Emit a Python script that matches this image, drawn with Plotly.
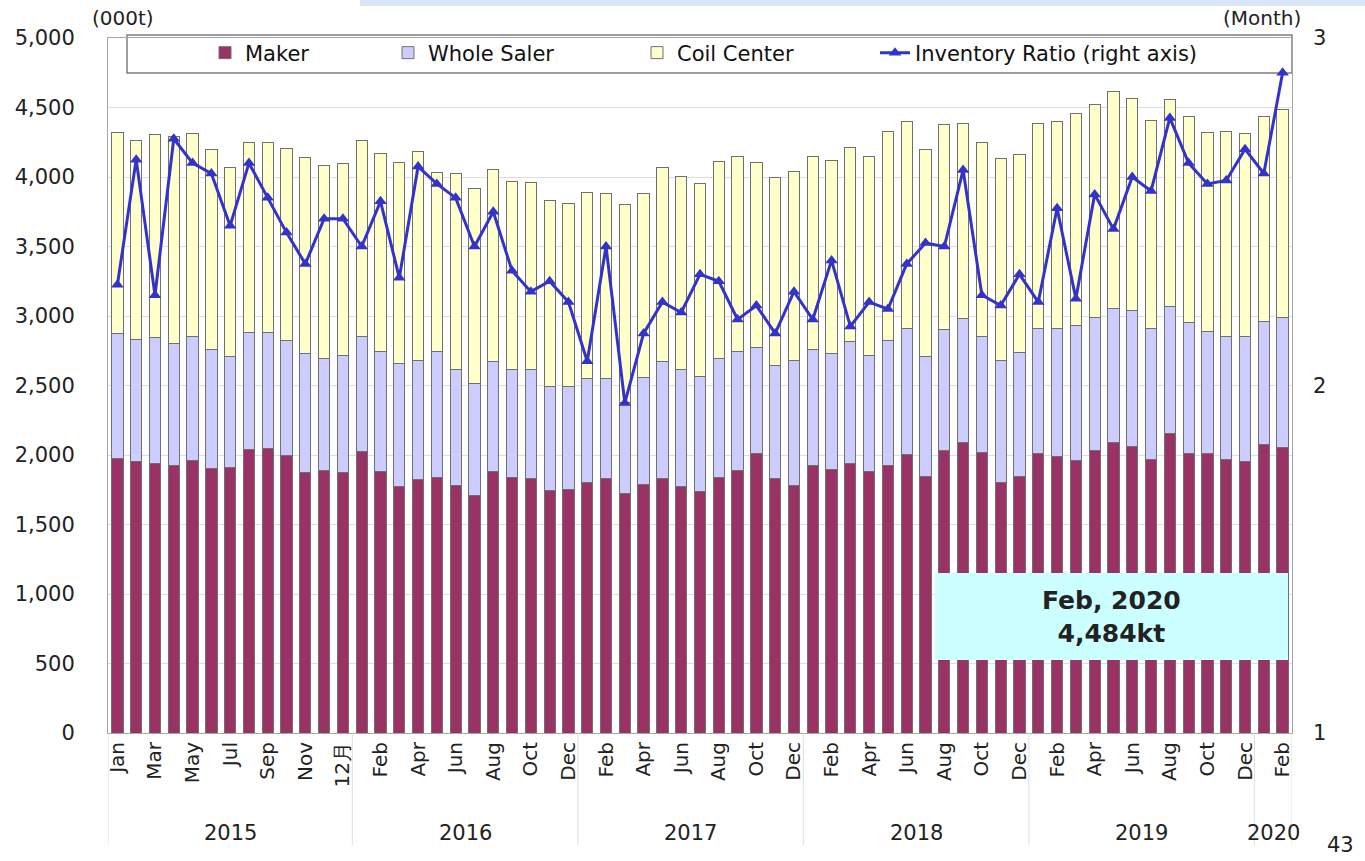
import plotly.graph_objects as go

# category axis: 2015 block has 13 entries in the source sheet
year_labels = ["2015", "2016", "2017", "2018", "2019", "2020"]
months_per_year = [13, 12, 12, 12, 12, 2]
month_labels = (
    ["Jan", "Feb", "Mar", "Apr", "May", "Jun", "Jul", "Aug", "Sep", "Oct", "Nov", "Dec", "12月"]
    + ["Jan", "Feb", "Mar", "Apr", "May", "Jun", "Jul", "Aug", "Sep", "Oct", "Nov", "Dec"] * 4
    + ["Jan", "Feb"]
)

# inventories, 000t
maker = [1976, 1950, 1942, 1926, 1957, 1904, 1911, 2043, 2045, 1993, 1873, 1885, 1875,
         2022, 1883, 1772, 1827, 1835, 1778, 1712, 1883, 1840, 1830, 1743, 1750,
         1799, 1830, 1724, 1789, 1830, 1774, 1741, 1837, 1892, 2009, 1830, 1782,
         1926, 1897, 1942, 1883, 1924, 2004, 1846, 2036, 2089, 2019, 1805, 1846,
         2012, 1990, 1959, 2031, 2089, 2063, 1966, 2154, 2012, 2012, 1966, 1952,
         2072, 2055]
whole_saler = [900, 880, 905, 877, 899, 854, 801, 839, 837, 829, 858, 810, 839,
               829, 860, 883, 856, 908, 839, 799, 793, 777, 787, 753, 746,
               753, 722, 656, 770, 846, 843, 827, 856, 856, 763, 817, 901,
               834, 834, 878, 834, 901, 906, 862, 869, 895, 831, 876, 891,
               898, 920, 970, 958, 966, 974, 941, 912, 939, 874, 889, 898,
               886, 934]
coil_center = [1443, 1436, 1457, 1492, 1455, 1441, 1358, 1367, 1367, 1382, 1406, 1386, 1380,
               1413, 1427, 1448, 1497, 1288, 1409, 1405, 1378, 1354, 1340, 1334, 1312,
               1340, 1326, 1421, 1323, 1394, 1390, 1382, 1417, 1398, 1331, 1350, 1357,
               1386, 1389, 1389, 1429, 1505, 1492, 1492, 1475, 1401, 1400, 1449, 1426,
               1477, 1492, 1528, 1533, 1559, 1529, 1499, 1493, 1485, 1434, 1472, 1465,
               1478, 1495]
# months of inventory
inventory_ratio = [2.29, 2.65, 2.26, 2.71, 2.64, 2.61, 2.46, 2.64, 2.54, 2.44, 2.35, 2.48, 2.48,
                   2.40, 2.53, 2.31, 2.63, 2.58, 2.54, 2.40, 2.50, 2.33, 2.27, 2.30, 2.24,
                   2.07, 2.40, 1.95, 2.15, 2.24, 2.21, 2.32, 2.30, 2.19, 2.23, 2.15, 2.27,
                   2.19, 2.36, 2.17, 2.24, 2.22, 2.35, 2.41, 2.40, 2.62, 2.26, 2.23, 2.32,
                   2.24, 2.51, 2.25, 2.55, 2.45, 2.60, 2.56, 2.77, 2.64, 2.58, 2.59, 2.68,
                   2.61, 2.90]

FONT = "DejaVu Sans"
W, H = 1365, 861
L, R, T, B = 108, 73, 38, 128


def px(x=None, y=None):
    # page pixel -> paper coordinate
    if x is not None:
        return (x - L) / (W - L - R)
    return (H - B - y) / (H - T - B)


def note(text, x, y, size=20, **kw):
    fig.add_annotation(x=px(x=x), y=px(y=y), xref="paper", yref="paper", text=text,
                       showarrow=False, xanchor="center", yanchor="middle",
                       font=dict(size=size, color="#222"), **kw)


xs = list(range(len(month_labels)))

fig = go.Figure()
bar_line = dict(color="#707070", width=1)
fig.add_trace(go.Bar(x=xs, y=maker, name="Maker", marker=dict(color="#993366", line=bar_line),
                     width=0.6, legend="legend"))
fig.add_trace(go.Bar(x=xs, y=whole_saler, name="Whole Saler", marker=dict(color="#CCCCFF", line=bar_line),
                     width=0.6, legend="legend2"))
fig.add_trace(go.Bar(x=xs, y=coil_center, name="Coil Center", marker=dict(color="#FFFFCC", line=bar_line),
                     width=0.6, legend="legend3"))
fig.add_trace(go.Scatter(x=xs, y=inventory_ratio, name="Inventory Ratio (right axis)", yaxis="y2",
                         mode="lines+markers", line=dict(color="#3333CC", width=3),
                         marker=dict(symbol="triangle-up", size=11, color="#3333CC"),
                         legend="legend4"))

# year groups under the month labels
bounds = [-0.5]
for n in months_per_year:
    bounds.append(bounds[-1] + n)
for b in bounds:
    fig.add_shape(type="line", xref="x", yref="paper", x0=b, x1=b, y0=0, y1=px(y=845),
                  line=dict(color="#e0e0e0", width=1))
for yr, a, b in zip(year_labels, bounds[:-1], bounds[1:]):
    fig.add_annotation(x=(a + b) / 2, y=px(y=833), xref="x", yref="paper", text=yr,
                       showarrow=False, yanchor="middle", font=dict(size=21, color="#222"))

# legend frame
fig.add_shape(type="rect", xref="paper", yref="paper", x0=px(x=127), x1=px(x=1292),
              y0=px(y=73), y1=px(y=35), line=dict(color="#7f7f7f", width=1.5),
              fillcolor="white", layer="below")
# slide header strip
fig.add_shape(type="rect", xref="paper", yref="paper", x0=px(x=360), x1=px(x=1365),
              y0=px(y=6), y1=px(y=0), line=dict(width=0), fillcolor="#d7e7f6")

# latest value box
total_last = maker[-1] + whole_saler[-1] + coil_center[-1]
fig.add_shape(type="rect", xref="paper", yref="paper", x0=px(x=935), x1=px(x=1288),
              y0=px(y=660), y1=px(y=573), line=dict(width=0), fillcolor="#CCFFFF", layer="above")
note(f"<b>{month_labels[-1]}, {year_labels[-1]}<br>{total_last:,}kt</b>", 1111, 617, size=25)

note("(000t)", 123, 18)
note("(Month)", 1262, 18)
note("43", 1340, 845, size=21)

leg = dict(orientation="h", yanchor="middle", y=px(y=53), xanchor="left",
           bgcolor="rgba(0,0,0,0)", borderwidth=0, font=dict(size=21, color="#111"))
fig.update_layout(
    template="none",
    width=W, height=H,
    margin=dict(l=L, r=R, t=T, b=B),
    paper_bgcolor="white", plot_bgcolor="white",
    font=dict(family=FONT, color="#222"),
    barmode="stack",
    showlegend=True,
    legend=dict(leg, x=px(x=205)),
    legend2=dict(leg, x=px(x=388)),
    legend3=dict(leg, x=px(x=637)),
    legend4=dict(leg, x=px(x=875)),
    xaxis=dict(range=[-0.5, len(xs) - 0.5], tickvals=xs[::2], ticktext=month_labels[::2],
               tickangle=-90, tickfont=dict(size=20), showgrid=False, ticks="",
               showline=True, mirror=True, linecolor="#a6a6a6", linewidth=1, automargin=False),
    yaxis=dict(range=[0, 5000], dtick=500, tickformat=",", tickfont=dict(size=21),
               showgrid=True, gridcolor="#dedede", zeroline=False, ticks="",
               showline=True, mirror=True, linecolor="#a6a6a6", linewidth=1,
               ticklabelstandoff=28, automargin=False),
    yaxis2=dict(range=[1, 3], dtick=1, overlaying="y", side="right", showgrid=False,
                zeroline=False, ticks="", tickfont=dict(size=21), ticklabelstandoff=20,
                automargin=False),
)

# page has a default body margin; drop it so the figure sits at the window origin
fig.write_html("out.html", config={"displayModeBar": False},
               post_script="document.body.style.margin='0';")
